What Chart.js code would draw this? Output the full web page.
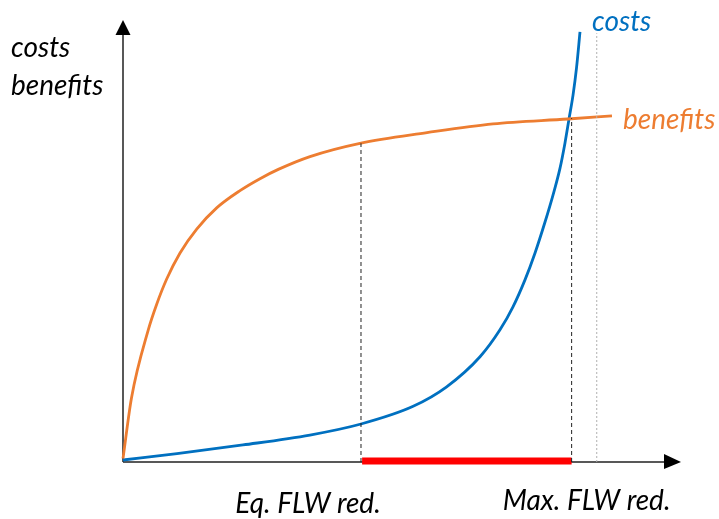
<!DOCTYPE html>
<html>
<head>
<meta charset="utf-8">
<script src="https://cdn.jsdelivr.net/npm/chart.js@4"></script>
<style>
  html, body { margin: 0; padding: 0; background: #fff; }
  #wrap { width: 719px; height: 519px; }
</style>
</head>
<body>
<div id="wrap"><canvas id="costChart"></canvas></div>
<script>
// valores (escala 0-100 en ambos ejes)
const costsX = [0, 9.68, 21.5, 33.5, 42.65, 52.0, 58.0, 63.98, 67.56, 69.89, 72.04, 73.84, 75.63, 77.06, 78.32, 79.21, 79.93, 80.65, 81.27, 81.9];
const costsY = [0.45, 1.9, 3.85, 6.1, 8.6, 12.6, 17.0, 23.8, 29.9, 35.1, 41.2, 47.3, 54.3, 60.4, 66.5, 72.2, 77.6, 83.0, 89.1, 97.3];

const benefitsX = [0, 1.52, 4.53, 6.04, 7.83, 10.22, 13.21, 16.79, 20.97, 24.55, 27.83, 33.51, 42.47, 54.48, 66.31, 79.75, 87.63];
const benefitsY = [0.8, 14.5, 29.9, 35.7, 41.4, 47.3, 52.7, 57.5, 61.4, 64.1, 66.2, 69.1, 72.1, 74.5, 76.5, 77.6, 78.3];

// puntos de equilibrio y maximo
const eqX = 42.65;
const eqY = 72.1;
const maxX = 80.4;
const maxY = 77.8;
const capX = 84.9;
const capY = 97;

const axisLabels = ['costs', 'benefits'];
const xLabels = ['Eq. FLW red.', 'Max. FLW red.'];
const seriesNames = ['costs', 'benefits'];

const BLUE = '#0070C0';
const ORANGE = '#ED7D31';
const FONT = 'italic 28px Lato, "Open Sans", sans-serif';

function toPoints(xs, ys) {
    return xs.map((x, i) => ({ x: x, y: ys[i] }));
}

// ejes con flechas y textos
const decorPlugin = {
    id: 'decor',
    beforeDatasetsDraw(chart) {
        const c = chart.ctx;
        const a = chart.chartArea;
        c.save();
        c.strokeStyle = '#222';
        c.fillStyle = '#000';
        c.lineWidth = 1.5;
        c.beginPath();
        c.moveTo(a.left, a.bottom);
        c.lineTo(a.left, a.top + 14);
        c.moveTo(a.left, a.bottom);
        c.lineTo(a.right - 16, a.bottom);
        c.stroke();
        // flecha vertical
        c.beginPath();
        c.moveTo(a.left, a.top);
        c.lineTo(a.left - 7.5, a.top + 15);
        c.lineTo(a.left + 7.5, a.top + 15);
        c.closePath();
        c.fill();
        // flecha horizontal
        c.beginPath();
        c.moveTo(a.right, a.bottom);
        c.lineTo(a.right - 17, a.bottom - 8);
        c.lineTo(a.right - 17, a.bottom + 7);
        c.closePath();
        c.fill();
        c.restore();
    },
    afterDraw(chart) {
        const c = chart.ctx;
        const xs = chart.scales.x;
        const ys = chart.scales.y;
        c.save();
        c.font = FONT;
        c.textBaseline = 'alphabetic';
        c.fillStyle = '#000';
        c.textAlign = 'left';
        c.fillText(axisLabels[0], 11, 57);
        c.fillText(axisLabels[1], 11, 95);
        c.textAlign = 'center';
        c.fillText(xLabels[0], xs.getPixelForValue(eqX) - 53, 513);
        c.fillText(xLabels[1], xs.getPixelForValue(maxX) + 15, 510);
        // etiquetas de series
        c.textAlign = 'left';
        c.fillStyle = BLUE;
        c.fillText(seriesNames[0], xs.getPixelForValue(costsX[costsX.length - 1]) + 12, 31);
        c.fillStyle = ORANGE;
        c.fillText(seriesNames[1], xs.getPixelForValue(benefitsX[benefitsX.length - 1]) + 11,
            ys.getPixelForValue(benefitsY[benefitsY.length - 1]) + 13);
        c.restore();
    }
};

new Chart(document.getElementById('costChart'), {
    type: 'line',
    data: {
        datasets: [
            {
                label: 'capacity',
                data: [{ x: capX, y: 0 }, { x: capX, y: capY }],
                borderColor: '#b0b0b0',
                borderWidth: 1,
                borderDash: [2, 2],
                pointRadius: 0
            },
            {
                label: 'eq',
                data: [{ x: eqX, y: 0 }, { x: eqX, y: eqY }],
                borderColor: '#222',
                borderWidth: 1,
                borderDash: [4, 3],
                pointRadius: 0
            },
            {
                label: 'max',
                data: [{ x: maxX, y: 0 }, { x: maxX, y: maxY }],
                borderColor: '#222',
                borderWidth: 1,
                borderDash: [4, 3],
                pointRadius: 0
            },
            {
                label: 'range',
                data: [{ x: eqX + 0.2, y: 0.2 }, { x: maxX, y: 0.2 }],
                borderColor: '#FF0000',
                borderWidth: 7,
                borderCapStyle: 'butt',
                pointRadius: 0
            },
            {
                label: seriesNames[1],
                data: toPoints(benefitsX, benefitsY),
                borderColor: ORANGE,
                borderWidth: 2.8,
                cubicInterpolationMode: 'monotone',
                pointRadius: 0
            },
            {
                label: seriesNames[0],
                data: toPoints(costsX, costsY),
                borderColor: BLUE,
                borderWidth: 2.8,
                cubicInterpolationMode: 'monotone',
                pointRadius: 0
            }
        ]
    },
    options: {
        responsive: true,
        maintainAspectRatio: false,
        animation: false,
        layout: { padding: { left: 123, right: 38, top: 20, bottom: 57 } },
        datasets: { line: { clip: false } },
        plugins: {
            legend: { display: false },
            tooltip: { enabled: false }
        },
        scales: {
            x: { type: 'linear', min: 0, max: 100, display: false },
            y: { type: 'linear', min: 0, max: 100, display: false }
        }
    },
    plugins: [decorPlugin]
});
</script>
</body>
</html>
